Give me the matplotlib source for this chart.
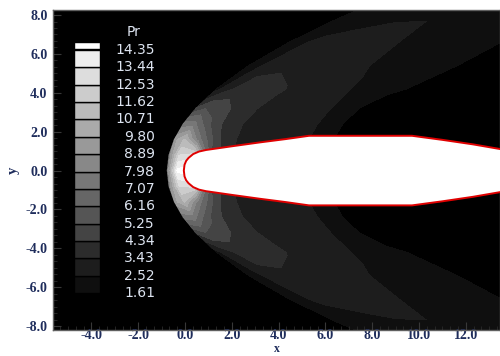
import matplotlib
matplotlib.use('Agg')
import matplotlib.pyplot as plt
import numpy as np
from matplotlib.patches import Rectangle, Polygon
from matplotlib.ticker import MultipleLocator, FormatStrFormatter

# contour levels of Pr (legend)
levels = [1.61, 2.52, 3.43, 4.34, 5.25, 6.16, 7.07, 7.98, 8.89, 9.80,
          10.71, 11.62, 12.53, 13.44, 14.35]

# Pr field on a shock-fitted grid (upper half, mirrored below)
# rows: distance y from the axis, shock_x: x of the bow shock on that row,
# depth: distance behind the shock along x
row_y = [0.0, 0.8, 1.6, 2.4, 3.2, 4.2, 5.4, 6.6, 7.8, 8.8]
shock_x = [-0.73, -0.654, -0.425, -0.044, 0.489, 1.37, 2.74, 4.46, 6.51, 8.49]
depth = [-6.0, -0.05, 0.0, 0.4, 1.0, 1.8, 2.8, 4.0, 5.5, 7.5, 10.0, 15.0]
pr_rows = [
    [1, 1, 8.5, 14.6, 15.0, 15.0, 15.0, 15.0, 15.0, 15.0, 15.0, 15.0],
    [1, 1, 8.5, 12.5, 13.0, 5.0, 3.3, 2.9, 2.7, 1.0, 1.0, 1.0],
    [1, 1, 9.5, 10.8, 7.5, 4.5, 3.2, 2.9, 2.7, 1.0, 1.0, 1.0],
    [1, 1, 7.5, 7.5, 5.5, 4.0, 3.2, 2.9, 2.7, 1.0, 1.0, 1.0],
    [1, 1, 4.5, 5.2, 4.8, 4.0, 3.3, 2.9, 2.7, 1.2, 1.0, 1.0],
    [1, 1, 2.2, 3.0, 3.8, 3.9, 3.5, 2.9, 2.6, 1.8, 1.0, 1.0],
    [1, 1, 1.9, 2.3, 3.1, 3.2, 3.0, 2.75, 2.45, 2.0, 1.3, 1.0],
    [1, 1, 1.8, 2.2, 2.7, 2.9, 2.9, 2.7, 2.3, 1.95, 1.4, 1.0],
    [1, 1, 1.8, 1.9, 2.0, 2.2, 2.45, 2.5, 2.2, 2.0, 1.8, 1.5],
    [1, 1, 1.8, 1.9, 2.0, 2.1, 2.2, 2.2, 2.0, 1.9, 1.7, 1.5],
]

# body outline (upper half, mirrored)
body_x = [-0.05, -0.02, 0.05, 0.15, 0.35, 0.6, 0.9, 2.0, 3.2, 4.3, 5.3,
          9.7, 11.0, 12.3, 13.6, 14.5]
body_y = [0.0, 0.3, 0.5, 0.65, 0.85, 0.98, 1.06, 1.25, 1.45, 1.62, 1.79,
          1.79, 1.58, 1.35, 1.08, 1.0]

W, H = 500, 356
fig = plt.figure(figsize=(W / 100, H / 100), dpi=100)
ax = fig.add_axes([53 / W, 26 / H, (W - 53) / W, 320 / H])
ax.set_facecolor('black')

# build full grid
ry = np.array(row_y)
sx = np.array(shock_x)
vals = np.array(pr_rows, dtype=float)
full_y = np.concatenate([-ry[:0:-1], ry])
full_sx = np.concatenate([sx[:0:-1], sx])
full_v = np.vstack([vals[:0:-1], vals])
d = np.array(depth)
X = full_sx[:, None] + d[None, :]
Y = np.repeat(full_y[:, None], len(d), axis=1)

grays = [15, 29, 44] + [j * 17 for j in range(4, 15)] + [255]
band_colors = [str(g / 255) for g in grays]
ax.contourf(X, Y, full_v, levels=levels + [30], colors=band_colors)

# body
bx = np.array(body_x)
by = np.array(body_y)
px = np.concatenate([bx, bx[::-1]])
py = np.concatenate([by, -by[::-1]])
ax.add_patch(Polygon(np.column_stack([px, py]), closed=True, facecolor='white',
                     edgecolor='#e00000', linewidth=1.4, zorder=5))

ax.set_xlim(-5.64, 13.46)
ax.set_ylim(-8.2, 8.26)

tick_font = dict(family='Liberation Serif', weight='bold', size=10)
tick_color = '#1f2d5c'
ax.xaxis.set_major_locator(MultipleLocator(2))
ax.yaxis.set_major_locator(MultipleLocator(2))
ax.xaxis.set_minor_locator(MultipleLocator(2 / 6))
ax.yaxis.set_minor_locator(MultipleLocator(2 / 6))
ax.xaxis.set_major_formatter(FormatStrFormatter('%.1f'))
ax.yaxis.set_major_formatter(FormatStrFormatter('%.1f'))
ax.tick_params(which='major', direction='in', length=6, color='#383838',
               labelcolor=tick_color)
ax.tick_params(axis='x', which='major', pad=-1.0)
ax.tick_params(axis='y', which='major', pad=4)
ax.tick_params(which='minor', direction='in', length=3, color='#2a2a2a')
for lab in ax.get_xticklabels() + ax.get_yticklabels():
    lab.set_fontproperties(matplotlib.font_manager.FontProperties(**tick_font))
for sp in ax.spines.values():
    sp.set_color('#606060')
    sp.set_linewidth(1.0)

# axis titles
fig.text((53 + W) / 2 / W, 0.6 / H, 'x', ha='center', va='bottom',
         color=tick_color, family='Liberation Serif', weight='bold', size=8.5)
ax.set_ylabel('y', fontdict=dict(tick_font, size=10.5), color=tick_color,
              labelpad=4)


# legend drawn in figure pixels
def fx(p):
    return p / W


def fy(p):
    return 1 - p / H


step = 17.36
top_label = 50.0
box_l, box_r = 74, 100
n = len(levels)
for j in range(1, n + 1):
    if j < n:
        top = top_label + (n - j - 1) * step
        bot = top + step
    else:
        top, bot = 42.0, top_label - 1.5
    fig.patches.append(Rectangle((fx(box_l), fy(bot)), fx(box_r - box_l),
                                 (bot - top) / H, transform=fig.transFigure,
                                 facecolor=band_colors[j - 1], edgecolor='black',
                                 linewidth=1.0, zorder=10))
leg_color = '#dde4f0'
for k, lv in enumerate(levels):
    yy = top_label + (n - 1 - k) * step
    fig.text(fx(155), fy(yy), f'{lv:.2f}', ha='right', va='center',
             color=leg_color, fontsize=10, family='DejaVu Sans', zorder=11)
fig.text(fx(134), fy(32), 'Pr', ha='center', va='center', color=leg_color,
         fontsize=10, family='DejaVu Sans', zorder=11)

fig.savefig('out.png', dpi=100, facecolor='white')
